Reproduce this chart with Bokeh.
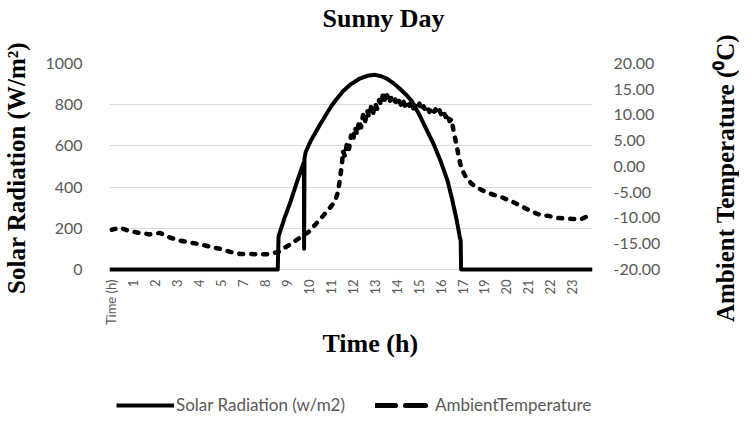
import math
from bokeh.plotting import figure
from bokeh.layouts import row, column
from bokeh.models import (Range1d, LinearAxis, FixedTicker, NumeralTickFormatter,
                          Legend, LegendItem, ColumnDataSource, Title)
from bokeh.embed import file_html
from bokeh.resources import INLINE

# ---------------- data ----------------
solar_hours = [0.0, 8.36, 8.40, 8.70, 9.00, 9.30, 9.60, 9.66, 9.67, 9.69, 9.75, 10.00,
               10.50, 11.00, 11.25, 11.60, 12.00, 12.40, 12.80, 13.20, 13.50, 13.80,
               14.10, 14.40, 14.70, 15.00, 15.35, 15.70, 16.10, 16.45, 16.80, 17.05,
               17.25, 17.40, 17.45, 17.47, 24.0]
solar_wm2 = [0, 0, 160, 250, 330, 420, 505, 520, 100, 540, 570, 625,
             710, 790, 823, 865, 900, 925, 940, 945, 938, 925,
             905, 880, 852, 820, 760, 690, 610, 527, 430, 330,
             240, 160, 140, 0, 0]

temp_hours = [0.10, 0.55, 1.00, 1.50, 2.00, 2.50, 3.00, 3.50, 4.00, 4.50, 5.00, 5.50,
              6.00, 6.50, 7.00, 7.50, 8.00, 8.40, 8.70, 9.00, 9.40, 9.90, 10.20, 10.50,
              10.90, 11.20, 11.35, 11.45, 11.55,
              11.6, 11.7, 11.8, 11.9, 12.0, 12.1, 12.2, 12.3, 12.4, 12.5, 12.6, 12.7,
              12.8, 12.9, 13.0, 13.1, 13.2, 13.3, 13.4, 13.5, 13.6, 13.7, 13.8, 13.9,
              14.0, 14.1, 14.2, 14.3, 14.4, 14.5, 14.6, 14.7, 14.8, 14.9, 15.0, 15.1,
              15.2, 15.3, 15.4, 15.5, 15.6, 15.7, 15.8, 15.9, 16.0, 16.1, 16.2, 16.3,
              16.4, 16.5, 16.6, 16.7, 16.8, 16.9, 17.0,
              17.1, 17.2, 17.3, 17.4, 17.5, 17.7, 18.0, 18.5, 19.0, 19.5, 20.0, 20.5,
              21.0, 21.4, 21.8, 22.2, 22.6, 23.0, 23.4, 23.9]
temp_c = [-12.3, -11.9, -12.6, -12.9, -13.2, -12.9, -13.8, -14.4, -14.8, -15.1, -15.6, -16.0,
          -16.6, -17.0, -17.0, -17.1, -17.0, -16.6, -15.8, -15.1, -14.0, -12.7, -11.4, -10.1,
          -8.3, -6.8, -5.0, -2.5, 0.5,
          3.0, 2.0, 4.6, 3.4, 6.0, 4.9, 7.6, 6.2, 8.9, 7.6, 10.0, 8.6,
          10.9, 9.6, 11.6, 10.3, 12.3, 11.2, 12.9, 11.9, 14.5, 12.4, 13.8, 12.4,
          13.3, 12.2, 13.0, 11.9, 12.7, 11.8, 12.8, 11.5, 12.3, 11.8, 12.6, 11.3,
          12.0, 11.4, 12.2, 10.9, 11.7, 11.0, 11.6, 10.6, 11.3, 10.5, 11.1, 10.2,
          10.9, 9.9, 10.6, 9.6, 10.2, 8.8, 9.2,
          6.8, 5.0, 3.0, 1.0, -0.5, -2.0, -3.4, -4.6, -5.4, -6.0, -6.8, -7.8,
          -8.8, -9.4, -9.6, -10.0, -10.1, -10.2, -10.3, -9.4]

x_tick_labels = ["Time (h)", "1", "2", "3", "4", "5", "7", "8", "9", "10", "11", "12",
                 "13", "14", "15", "16", "17", "19", "20", "21", "22", "23"]
left_ticks = [0, 200, 400, 600, 800, 1000]
right_ticks = [-20, -15, -10, -5, 0, 5, 10, 15, 20]

chart_title = "Sunny Day"
x_title = "Time (h)"
left_title = "Solar Radiation (W/m\u00b2)"
right_title = "Ambient Temperature (\u2070C)"
series_names = ["Solar Radiation (w/m2)", "AmbientTemperature"]

tick_color = "#595959"
serif = "Liberation Serif"
sans = "Lato"


def strip(width, height, **borders):
    f = figure(width=width, height=height, output_backend="svg", toolbar_location=None,
               x_range=Range1d(0, 1), y_range=Range1d(5000, 5001),
               x_axis_location=None, y_axis_location=None, **borders)
    f.outline_line_color = None
    f.grid.visible = False
    return f


# ---------------- title strip (frame aligned with the main plot) ----------------
pt = strip(709, 40, min_border_left=102, min_border_right=117, min_border_top=32,
           min_border_bottom=0)
pt.title.text = chart_title
pt.title.align = "left"
pt.title.offset = 213
pt.title.standoff = 0
pt.title.text_font = serif
pt.title.text_font_style = "bold"
pt.title.text_font_size = "26px"
pt.title.text_color = "black"

# ---------------- main figure ----------------
p = figure(width=709, height=340, output_backend="svg", toolbar_location=None,
           x_range=Range1d(0, 24), y_range=Range1d(-15, 1000),
           min_border_left=102, min_border_right=117, min_border_top=23,
           min_border_bottom=108)
p.extra_y_ranges = {"temp": Range1d(-20.6, 20)}
p.outline_line_color = None

p.xgrid.visible = False
p.ygrid.grid_line_color = "#d9d9d9"
p.ygrid.grid_line_width = 1

n = len(x_tick_labels)
tick_pos = [(i + 0.08) * 24 / n for i in range(n)]
p.xaxis.ticker = FixedTicker(ticks=tick_pos)
p.xaxis.major_label_overrides = {tp: lab for tp, lab in zip(tick_pos, x_tick_labels)}
p.xaxis.major_label_orientation = math.pi / 2
p.xaxis.major_label_text_font = sans
p.xaxis.major_label_text_font_size = "13px"
p.xaxis.major_label_text_color = tick_color
p.xaxis.major_label_standoff = 1
p.xaxis.axis_line_color = None
p.xaxis.major_tick_line_color = None
p.xaxis.minor_tick_line_color = None
p.add_layout(Title(text=x_title, align="left", offset=213, standoff=0,
                   vertical_align="top",
                   text_font=serif, text_font_style="bold", text_font_size="26px",
                   text_color="black"), "below")

p.yaxis.ticker = FixedTicker(ticks=left_ticks)
p.yaxis.major_label_text_font = sans
p.yaxis.major_label_text_font_size = "16px"
p.yaxis.major_label_text_color = tick_color
p.yaxis.major_label_standoff = 21
p.yaxis.axis_line_color = None
p.yaxis.major_tick_line_color = None
p.yaxis.minor_tick_line_color = None
p.yaxis.axis_label = left_title
p.yaxis.axis_label_text_font = serif
p.yaxis.axis_label_text_font_style = "bold"
p.yaxis.axis_label_text_font_size = "25px"
p.yaxis.axis_label_text_color = "black"
p.yaxis.axis_label_standoff = 12

raxis = LinearAxis(y_range_name="temp", ticker=FixedTicker(ticks=right_ticks),
                   formatter=NumeralTickFormatter(format="0.00"))
raxis.major_label_text_font = sans
raxis.major_label_text_font_size = "16px"
raxis.major_label_text_color = tick_color
raxis.major_label_standoff = 15
raxis.axis_line_color = None
raxis.major_tick_line_color = None
raxis.minor_tick_line_color = None
p.add_layout(raxis, "right")

solar_src = ColumnDataSource(dict(x=solar_hours, y=solar_wm2))
temp_src = ColumnDataSource(dict(x=temp_hours, y=temp_c))

p.line("x", "y", source=temp_src, y_range_name="temp", line_color="black",
       line_width=4.5, line_dash="4 8", line_cap="round", line_join="round")
p.line("x", "y", source=solar_src, line_color="black", line_width=4, line_join="round")

# ---------------- legend strip (frame aligned with the main plot) ----------------
pl = strip(709, 50, min_border_left=102, min_border_right=117, min_border_top=0,
           min_border_bottom=0)
leg_solar = pl.line("x", "y", source=solar_src, line_color="black", line_width=4)
leg_temp = pl.line("x", "y", source=temp_src, line_color="black", line_width=5,
                   line_dash="20 10", line_cap="round")
legend = Legend(items=[LegendItem(label=series_names[0], renderers=[leg_solar]),
                       LegendItem(label=series_names[1], renderers=[leg_temp])],
                orientation="horizontal", location=(7, 15))
legend.glyph_width = 58
legend.glyph_height = 20
legend.label_standoff = 2
legend.spacing = 30
legend.padding = 0
legend.margin = 0
legend.label_text_font = sans
legend.label_text_font_size = "17px"
legend.label_text_color = tick_color
legend.border_line_color = None
legend.background_fill_alpha = 0
pl.add_layout(legend, "center")

# ---------------- right title strip (full height) ----------------
pr = strip(30, 430, min_border_left=0, min_border_right=0, min_border_top=63,
           min_border_bottom=138)
pr.add_layout(Title(text=right_title, align="center", text_font=serif,
                    text_font_style="bold", text_font_size="25px",
                    text_color="black", standoff=0), "left")

layout = row(column(pt, p, pl), pr)
open("out.html", "w").write(file_html(layout, INLINE))
